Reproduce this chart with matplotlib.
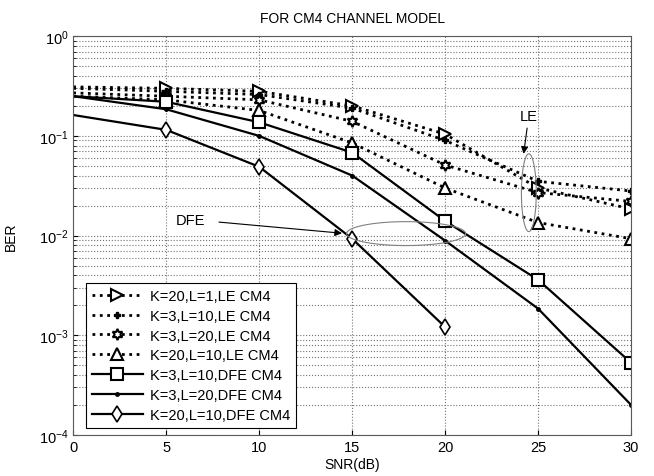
import numpy as np
import matplotlib
matplotlib.use("Agg")
from matplotlib import pyplot as plt

plt.rcParams['font.family'] = ['Liberation Sans', 'DejaVu Sans']

snr = [0, 5, 10, 15, 20, 25, 30]
snr_short = [0, 5, 10, 15, 20]

ber_k20_l1_le = [0.31, 0.30, 0.28, 0.20, 0.104, 0.030, 0.0185]
ber_k3_l10_le = [0.30, 0.28, 0.26, 0.19, 0.090, 0.035, 0.028]
ber_k3_l20_le = [0.27, 0.25, 0.23, 0.14, 0.051, 0.027, 0.022]
ber_k20_l10_le = [0.25, 0.23, 0.18, 0.085, 0.030, 0.0135, 0.0093]
ber_k3_l10_dfe = [0.25, 0.22, 0.137, 0.068, 0.014, 0.0036, 0.00053]
ber_k3_l20_dfe = [0.25, 0.185, 0.10, 0.040, 0.0089, 0.00185, 0.0002]
ber_k20_l10_dfe = [0.162, 0.115, 0.049, 0.0093, 0.00121]

labels = ['K=20,L=1,LE CM4', 'K=3,L=10,LE CM4', 'K=3,L=20,LE CM4',
          'K=20,L=10,LE CM4', 'K=3,L=10,DFE CM4', 'K=3,L=20,DFE CM4',
          'K=20,L=10,DFE CM4']

fig = plt.figure(figsize=(6.54, 4.77), dpi=100)
ax = fig.add_axes([0.112, 0.086, 0.853, 0.836])

hexagram = (6, 1, 0)
me = slice(1, None)  # no marker on the SNR=0 edge
ax.semilogy(snr, ber_k20_l1_le, 'k:', lw=2, marker='>', ms=8, mfc='w', mew=1.5, markevery=me, label=labels[0])
ax.semilogy(snr, ber_k3_l10_le, 'k:', lw=2, marker='P', ms=5, markevery=me, label=labels[1])
ax.semilogy(snr, ber_k3_l20_le, 'k:', lw=2, marker=hexagram, ms=8, mfc='w', mew=1.5, markevery=me, label=labels[2])
ax.semilogy(snr, ber_k20_l10_le, 'k:', lw=2, marker='^', ms=8, mfc='w', mew=1.5, markevery=me, label=labels[3])
ax.semilogy(snr, ber_k3_l10_dfe, 'k-', lw=1.6, marker='s', ms=8, mfc='w', mew=1.5, markevery=me, label=labels[4])
ax.semilogy(snr, ber_k3_l20_dfe, 'k-', lw=1.6, marker='.', ms=5, markevery=me, label=labels[5])
ax.semilogy(snr_short, ber_k20_l10_dfe, 'k-', lw=1.6, marker='d', ms=8, mfc='w', mew=1.2, markevery=me, label=labels[6])

ax.set_xlim(0, 30)
ax.set_ylim(1e-4, 1)
ax.set_xticks([0, 5, 10, 15, 20, 25, 30])
ax.grid(True, which='major', ls=':', lw=0.8, c='0.45')
ax.grid(True, which='minor', axis='y', ls=':', lw=0.8, c='0.45')
ax.tick_params(which='both', direction='in', labelsize=10.5)
for s in ax.spines.values():
    s.set_color('0.35')

ax.set_title('FOR CM4 CHANNEL MODEL', fontsize=10, pad=10)
ax.set_xlabel('SNR(dB)', fontsize=10, labelpad=2)
ax.set_ylabel('BER', fontsize=10)
ax.yaxis.set_label_coords(-0.1, 0.5)

# ellipses grouping the LE and DFE curves (log-scaled in y)
t = np.linspace(0, 2 * np.pi, 200)
ax.plot(24.5 + 0.4 * np.cos(t), 10 ** (-1.57 + 0.39 * np.sin(t)), c='0.5', lw=0.8)
ax.plot(17.9 + 3.2 * np.cos(t), 10 ** (-1.98 + 0.12 * np.sin(t)), c='0.5', lw=0.8)

ax.annotate('LE', xy=(24.2, 0.062), xytext=(24.5, 0.16), fontsize=10.5,
            ha='center', va='center',
            arrowprops=dict(arrowstyle='-|>', color='k', lw=0.8))
ax.annotate('DFE', xy=(14.6, 0.0105), xytext=(6.3, 0.0145), fontsize=10.5,
            ha='center', va='center',
            arrowprops=dict(arrowstyle='-|>', color='k', lw=0.8, shrinkA=8))

leg = ax.legend(loc='lower left', bbox_to_anchor=(0.01, 0.0), fontsize=10.5,
                fancybox=False, edgecolor='k', framealpha=1, handlelength=3.5,
                labelspacing=0.4, borderpad=0.4, handletextpad=0.5)
leg.get_frame().set_linewidth(0.8)

fig.savefig('out.png', dpi=100)
